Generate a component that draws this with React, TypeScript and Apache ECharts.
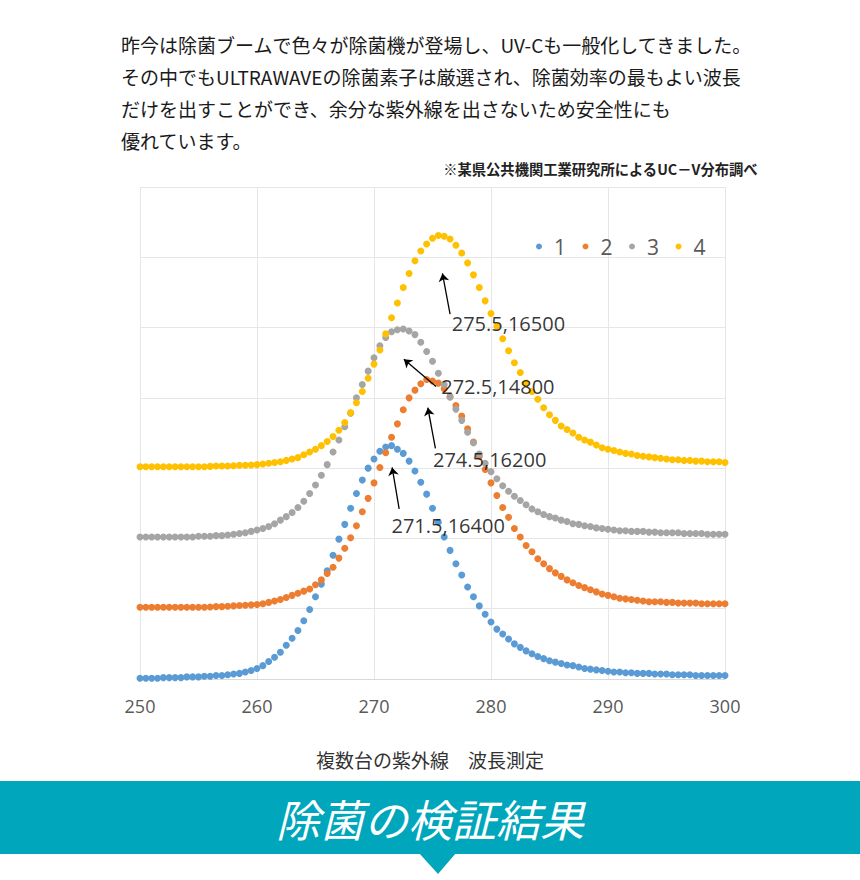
import React, { useEffect, useRef } from "react";
import * as echarts from "echarts";

// wavelength (nm)
const wavelengths: number[] = [
  250, 250.5, 251, 251.5, 252, 252.5, 253, 253.5, 254, 254.5,
  255, 255.5, 256, 256.5, 257, 257.5, 258, 258.5, 259, 259.5,
  260, 260.5, 261, 261.5, 262, 262.5, 263, 263.5, 264, 264.5,
  265, 265.5, 266, 266.5, 267, 267.5, 268, 268.5, 269, 269.5,
  270, 270.5, 271, 271.5, 272, 272.5, 273, 273.5, 274, 274.5,
  275, 275.5, 276, 276.5, 277, 277.5, 278, 278.5, 279, 279.5,
  280, 280.5, 281, 281.5, 282, 282.5, 283, 283.5, 284, 284.5,
  285, 285.5, 286, 286.5, 287, 287.5, 288, 288.5, 289, 289.5,
  290, 290.5, 291, 291.5, 292, 292.5, 293, 293.5, 294, 294.5,
  295, 295.5, 296, 296.5, 297, 297.5, 298, 298.5, 299, 299.5,
  300,
];

const series1: number[] = [
  10, 10, 10, 10, 20, 20, 20, 20, 30, 30,
  30, 40, 40, 50, 50, 60, 70, 80, 100, 120,
  150, 190, 250, 310, 380, 480, 580, 690, 830, 990,
  1170, 1350, 1540, 1760, 1990, 2200, 2430, 2640, 2830, 3000,
  3130, 3240, 3300, 3320, 3270, 3210, 3100, 2960, 2800, 2630,
  2430, 2230, 2020, 1830, 1640, 1480, 1310, 1170, 1040, 920,
  810, 710, 640, 570, 500, 450, 400, 360, 320, 290,
  260, 240, 220, 200, 190, 170, 150, 140, 130, 120,
  110, 100, 100, 90, 90, 80, 80, 80, 70, 70,
  70, 60, 60, 60, 60, 50, 50, 50, 50, 50,
  50,
];

const series2: number[] = [
  1020, 1020, 1020, 1020, 1020, 1020, 1020, 1020, 1020, 1020,
  1020, 1020, 1025, 1030, 1030, 1035, 1040, 1045, 1050, 1055,
  1060, 1070, 1090, 1110, 1130, 1160, 1190, 1220, 1250, 1280,
  1340, 1410, 1500, 1590, 1720, 1860, 2010, 2180, 2380, 2570,
  2790, 3010, 3220, 3440, 3630, 3830, 4000, 4110, 4200, 4260,
  4240, 4210, 4130, 4020, 3890, 3740, 3560, 3370, 3170, 2980,
  2790, 2610, 2440, 2300, 2140, 2020, 1900, 1810, 1710, 1640,
  1570, 1510, 1460, 1410, 1370, 1330, 1300, 1270, 1240, 1210,
  1190, 1170, 1150, 1140, 1130, 1120, 1110, 1100, 1100, 1100,
  1090, 1090, 1080, 1080, 1080, 1080, 1070, 1070, 1070, 1070,
  1070,
];

const series3: number[] = [
  2020, 2020, 2020, 2020, 2020, 2020, 2020, 2020, 2020, 2020,
  2030, 2030, 2030, 2040, 2040, 2050, 2060, 2070, 2080, 2100,
  2120, 2140, 2170, 2210, 2260, 2310, 2370, 2440, 2530, 2640,
  2760, 2900, 3050, 3230, 3400, 3590, 3780, 4000, 4190, 4380,
  4570, 4740, 4860, 4940, 4970, 4980, 4950, 4900, 4790, 4660,
  4520, 4350, 4190, 4010, 3840, 3680, 3510, 3360, 3200, 3070,
  2950, 2850, 2750, 2670, 2600, 2540, 2480, 2420, 2380, 2340,
  2310, 2290, 2260, 2240, 2210, 2200, 2180, 2170, 2150, 2140,
  2130, 2120, 2110, 2110, 2100, 2100, 2100, 2090, 2090, 2080,
  2080, 2080, 2080, 2070, 2070, 2070, 2070, 2060, 2060, 2060,
  2060,
];

const series4: number[] = [
  3020, 3020, 3020, 3020, 3020, 3020, 3020, 3020, 3020, 3020,
  3020, 3020, 3025, 3030, 3030, 3030, 3035, 3040, 3040, 3045,
  3050, 3060, 3070, 3080, 3090, 3110, 3130, 3150, 3190, 3230,
  3270, 3320, 3380, 3450, 3540, 3650, 3790, 3930, 4090, 4280,
  4480, 4680, 4910, 5140, 5350, 5570, 5770, 5950, 6090, 6190,
  6270, 6310, 6300, 6260, 6170, 6060, 5920, 5750, 5570, 5380,
  5200, 5020, 4840, 4670, 4500, 4360, 4210, 4090, 3980, 3860,
  3760, 3680, 3600, 3550, 3500, 3440, 3400, 3370, 3330, 3290,
  3270, 3250, 3230, 3210, 3200, 3180, 3170, 3160, 3150, 3140,
  3130, 3120, 3120, 3110, 3110, 3100, 3100, 3090, 3090, 3090,
  3080,
];

const seriesNames: string[] = ["1", "2", "3", "4"];
const seriesValues: number[][] = [series1, series2, series3, series4];
const seriesColors: string[] = ["#5B9BD5", "#ED7D31", "#A5A5A5", "#FFC000"];

// peak annotations (text, anchor of text, arrow tail, arrow head) in data units
const peakLabels: string[] = ["275.5,16500", "272.5,14800", "274.5,16200", "271.5,16400"];
const labelAnchors: number[][] = [[276.6, 5060], [275.7, 4160], [275.0, 3120], [271.45, 2190]];
const arrowTails: number[][] = [[276.5, 5190], [275.3, 4160], [275.25, 3280], [272.15, 2420]];
const arrowHeads: number[][] = [[275.85, 5770], [272.55, 4550], [274.6, 3860], [271.55, 3010]];

const introLines: string[] = [
  "昨今は除菌ブームで色々が除菌機が登場し、UV-Cも一般化してきました。",
  "その中でもULTRAWAVEの除菌素子は厳選され、除菌効率の最もよい波長",
  "だけを出すことができ、余分な紫外線を出さないため安全性にも",
  "優れています。",
];
const sourceNote = "※某県公共機関工業研究所によるUC－V分布調べ";
const chartCaption = "複数台の紫外線　波長測定";
const bannerTitle = "除菌の検証結果";

const JP = "'Noto Sans CJK JP', 'Noto Sans', sans-serif";
const LATIN = "'Open Sans', 'Noto Sans', sans-serif";

export default function App() {
  const ref = useRef<HTMLDivElement>(null);

  useEffect(() => {
    if (!ref.current) return;
    const chart = echarts.init(ref.current, null, { renderer: "svg" });

    const scatterSeries = seriesNames.map((name, i) => ({
      name,
      type: "scatter",
      symbol: "circle",
      symbolSize: 7,
      itemStyle: { color: seriesColors[i], opacity: 1 },
      data: wavelengths.map((w, j) => [w, seriesValues[i][j]]),
      z: 2 + i,
    }));

    const annotationSeries = {
      name: "annotations",
      type: "scatter",
      symbolSize: 1,
      itemStyle: { color: "rgba(0,0,0,0)" },
      silent: true,
      z: 10,
      data: labelAnchors.map((p) => [p[0], p[1]]),
      label: {
        show: true,
        position: "right",
        distance: 0,
        formatter: (p: any) => peakLabels[p.dataIndex],
        fontSize: 20,
        color: "#000000",
        fontFamily: LATIN,
      },
      markLine: {
        silent: true,
        symbol: ["none", "arrow"],
        symbolSize: 8,
        lineStyle: { color: "#000", width: 1.3, type: "solid" },
        label: { show: false },
        data: arrowTails.map((t, i) => [
          { coord: t },
          { coord: arrowHeads[i] },
        ]),
      },
    };

    const graphic: any[] = [];
    const lineYs = [47, 79, 111, 143];
    introLines.forEach((t, i) => {
      graphic.push({
        type: "text",
        left: 121,
        top: lineYs[i] - 12,
        style: { text: t, font: `19px ${JP}`, fill: "#1a1a1a" },
      });
    });
    graphic.push({
      type: "text",
      right: 102,
      top: 161,
      style: { text: sourceNote, font: `bold 14.3px ${JP}`, fill: "#222" },
    });
    graphic.push({
      type: "text",
      left: "center",
      top: 750,
      style: { text: chartCaption, font: `19px ${JP}`, fill: "#333" },
    });
    graphic.push({
      type: "rect",
      shape: { x: 0, y: 781, width: 860, height: 73 },
      style: { fill: "#00A6BB" },
    });
    graphic.push({
      type: "polygon",
      shape: { points: [[419, 853], [456, 853], [438, 874]] },
      style: { fill: "#00A6BB" },
    });
    graphic.push({
      type: "text",
      x: 430,
      y: 818,
      style: {
        text: bannerTitle,
        font: `italic 44px ${JP}`,
        fill: "#ffffff",
        align: "center",
        verticalAlign: "middle",
      },
    });

    chart.setOption({
      animation: false,
      backgroundColor: "#ffffff",
      grid: { left: 140, right: 135, top: 187, bottom: 201, containLabel: false },
      legend: {
        data: seriesNames,
        left: 531,
        top: 231,
        icon: "circle",
        itemWidth: 20,
        itemHeight: 6,
        itemGap: 16.5,
        textStyle: { fontSize: 21, color: "#595959", fontFamily: LATIN },
      },
      xAxis: {
        type: "value",
        min: 250,
        max: 300,
        interval: 10,
        axisLine: { show: true, lineStyle: { color: "#d9d9d9", width: 1 } },
        axisTick: { show: false },
        axisLabel: {
          color: "#595959",
          fontSize: 18,
          margin: 18,
          fontFamily: LATIN,
        },
        splitLine: { show: true, lineStyle: { color: "#e6e6e6", width: 1 } },
      },
      yAxis: {
        type: "value",
        min: 0,
        max: 7000,
        interval: 1000,
        axisLine: { show: false },
        axisTick: { show: false },
        axisLabel: { show: false },
        splitLine: { show: true, lineStyle: { color: "#e6e6e6", width: 1 } },
      },
      series: [...scatterSeries, annotationSeries],
      graphic,
    });

    return () => chart.dispose();
  }, []);

  return (
    <div
      ref={ref}
      style={{ position: "fixed", left: 0, top: 0, width: 860, height: 880, background: "#fff" }}
    />
  );
}
